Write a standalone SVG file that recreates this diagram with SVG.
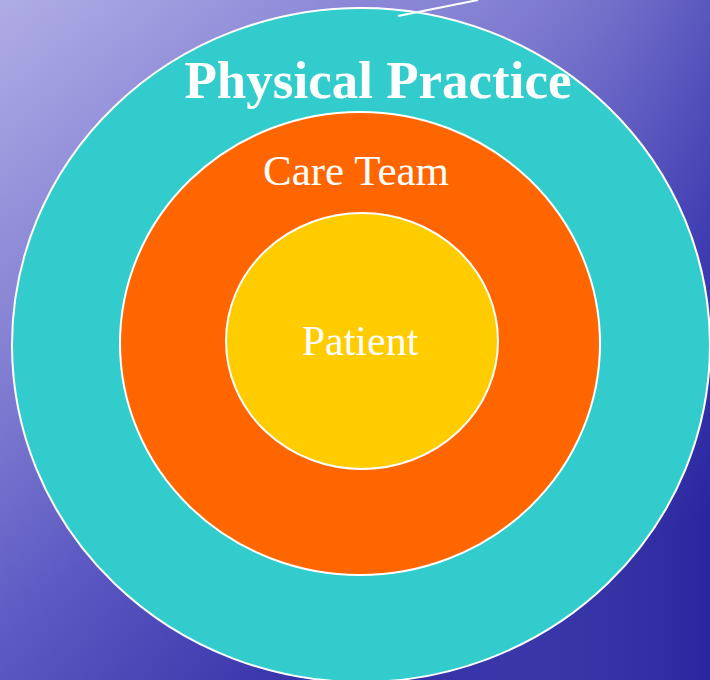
<svg xmlns="http://www.w3.org/2000/svg" width="710" height="680" viewBox="0 0 710 680">
<defs>
<linearGradient id="bg" x1="0" y1="0" x2="0.55" y2="1">
<stop offset="0" stop-color="#a4a2e2"/>
<stop offset="0.35" stop-color="#7a76d0"/>
<stop offset="0.7" stop-color="#4a46bc"/>
<stop offset="1" stop-color="#2e2aa4"/>
</linearGradient>
<linearGradient id="bg2" x1="0" y1="0" x2="1" y2="0">
<stop offset="0" stop-color="#ffffff" stop-opacity="0.12"/>
<stop offset="0.5" stop-color="#ffffff" stop-opacity="0"/>
<stop offset="1" stop-color="#1a1890" stop-opacity="0.25"/>
</linearGradient>
<style>
.ring{stroke:#ffffff;stroke-width:2}
.lbl{fill:#ffffff;font-family:"Liberation Serif","Times New Roman",serif;text-anchor:middle}
</style>
</defs>
<rect width="710" height="680" fill="url(#bg)"/>
<rect width="710" height="680" fill="url(#bg2)"/>
<g id="physical-practice">
<ellipse class="ring" cx="361" cy="345" rx="349" ry="337" fill="#33cccc"/>
<text class="lbl" x="378" y="98" font-size="53" font-weight="bold">Physical Practice</text>
</g>
<g id="care-team">
<ellipse class="ring" cx="360" cy="343.5" rx="240" ry="231.5" fill="#ff6600"/>
<text class="lbl" x="356" y="185" font-size="43">Care Team</text>
</g>
<g id="patient">
<ellipse class="ring" cx="362" cy="341" rx="136" ry="128" fill="#ffcc00"/>
<text class="lbl" x="360" y="355" font-size="42">Patient</text>
</g>
<g id="connectors">
<line x1="398" y1="16" x2="478" y2="0" stroke="#ffffff" stroke-width="2"/>
</g>
</svg>
